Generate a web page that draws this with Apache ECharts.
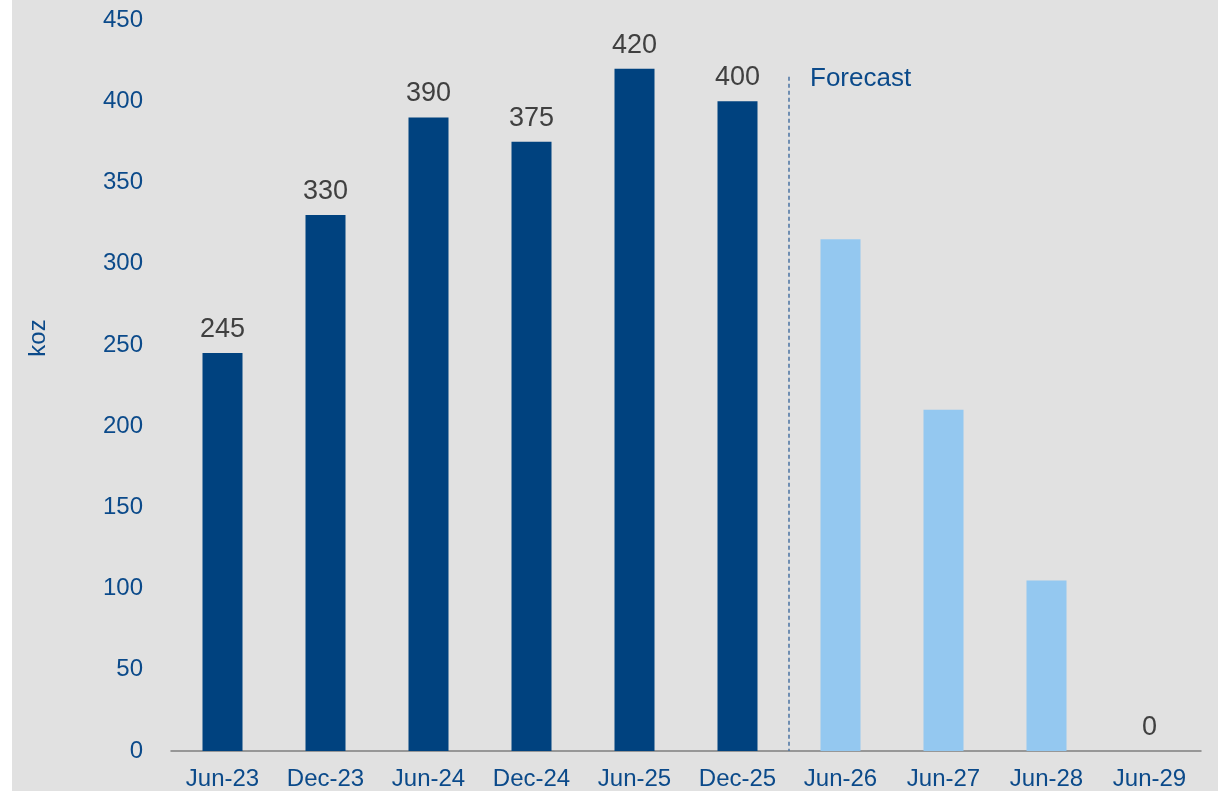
<!DOCTYPE html>
<html><head><meta charset="utf-8">
<script src="https://cdn.jsdelivr.net/npm/echarts@6/dist/echarts.min.js"></script>
<style>
html,body{margin:0;padding:0;background:#ffffff;}
#c{position:absolute;left:12px;top:0;width:1206px;height:791px;background:#e1e1e1;}
</style></head>
<body><div id="c"></div>
<script>
const categories = ['Jun-23','Dec-23','Jun-24','Dec-24','Jun-25','Dec-25','Jun-26','Jun-27','Jun-28','Jun-29'];
const actualValues = [245, 330, 390, 375, 420, 400, null, null, null, null];
const forecastValues = [null, null, null, null, null, null, 315, 210, 105, 0];
const forecastLabelShown = [false, false, false, false, false, false, false, false, false, true];
const yTicks = {min: 0, max: 450, interval: 50};
const yAxisTitle = 'koz';
const forecastText = 'Forecast';
const forecastBoundary = 6;   // category index where forecast begins
const forecastLineTop = 415;  // y-value where the dashed divider starts

const font = 'Liberation Sans, Arial, sans-serif';
const blue = '#0b4a8a';

const chart = echarts.init(document.getElementById('c'));
chart.setOption({
  backgroundColor: 'transparent',
  animation: false,
  textStyle: {fontFamily: font},
  grid: {left: 159, right: 17, top: 20, bottom: 40},
  xAxis: [{
    type: 'category', data: categories,
    axisLine: {lineStyle: {color: '#7f7f7f', width: 1.5}},
    axisTick: {show: false},
    axisLabel: {color: blue, fontSize: 24, fontFamily: font, margin: 16}
  }, {
    type: 'value', min: 0, max: categories.length, show: false
  }],
  yAxis: [{
    type: 'value', min: yTicks.min, max: yTicks.max, interval: yTicks.interval,
    axisLine: {show: false}, axisTick: {show: false},
    splitLine: {show: false},
    axisLabel: {color: blue, fontSize: 24, fontFamily: font, margin: 28}
  }],
  series: [{
    type: 'bar', data: actualValues, barWidth: 40, barGap: '-100%',
    itemStyle: {color: '#00427f'},
    label: {show: true, position: 'top', color: '#404040', fontSize: 27, fontFamily: font, distance: 10}
  }, {
    type: 'bar', barWidth: 40,
    data: forecastValues.map((v, i) => ({value: v, label: {show: forecastLabelShown[i]}})),
    itemStyle: {color: '#94c8f0'},
    label: {position: 'top', color: '#404040', fontSize: 27, fontFamily: font, distance: 10}
  }, {
    type: 'line', xAxisIndex: 1, data: [], silent: true,
    markLine: {
      symbol: 'none', silent: true,
      lineStyle: {color: '#4a73a3', type: [4, 3], width: 1.5},
      label: {show: false},
      data: [[{coord: [forecastBoundary, forecastLineTop]}, {coord: [forecastBoundary, 0]}]]
    }
  }],
  graphic: [{
    type: 'text', left: 798, top: 66,
    style: {text: forecastText, fill: blue, fontSize: 26, fontFamily: font}
  }, {
    type: 'text', x: 26, y: 338, rotation: Math.PI / 2,
    style: {text: yAxisTitle, fill: blue, fontSize: 24, fontFamily: font, align: 'center', verticalAlign: 'middle'}
  }]
});
</script></body></html>
